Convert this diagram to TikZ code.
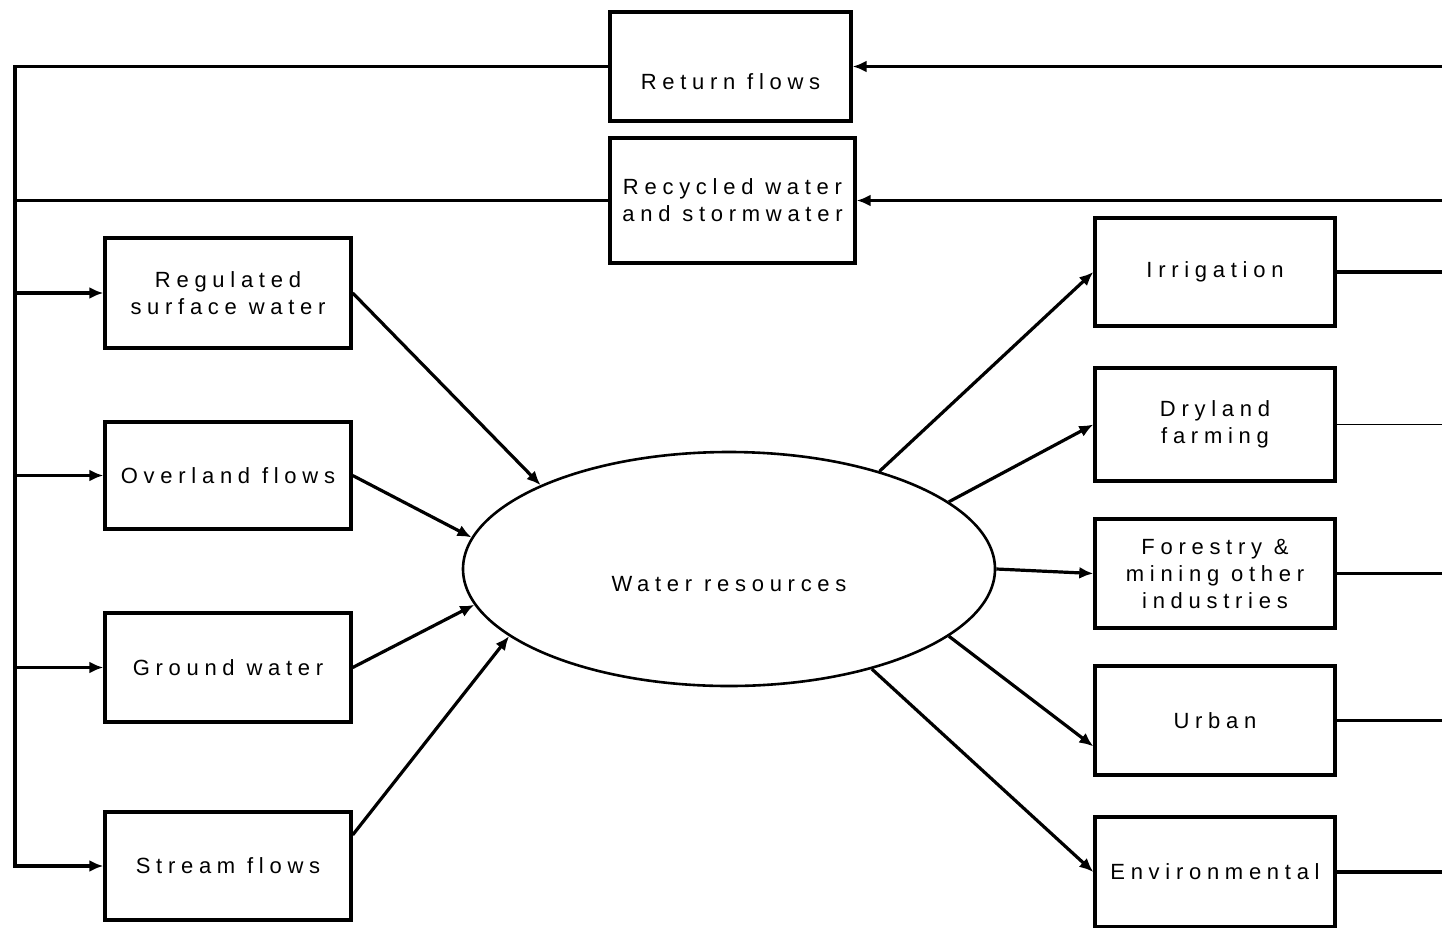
\documentclass[tikz,border=0pt]{standalone}
\usepackage{fontspec}
\setmainfont{Liberation Sans}[LetterSpace=26]
\usetikzlibrary{arrows.meta,shapes.geometric}

\begin{document}
\begin{tikzpicture}[x=1pt,y=-1pt,line width=3.2pt,
  >={Latex[length=14pt,width=12pt]},
  box/.style={draw,line width=3.4pt,inner sep=0pt,align=center,
    font=\fontsize{22}{27}\selectfont},
  pool/.style={draw,ellipse,line width=2.6pt,inner sep=0pt,align=center,
    font=\fontsize{22}{27}\selectfont}]

\useasboundingbox (0,0) rectangle (1442,927);

\def\bw {246} \def\cw {240} \def\bh {109}
\coordinate (spine) at (15,0);
\coordinate (edge) at (1442,0);

% feedback boxes
\node[box,minimum width=241,minimum height=\bh] (ret) at (730.5,66.5)
  {\strut\\Return flows};
\node[box,minimum width=245,minimum height=125] (rec) at (732.5,200.5)
  {Recycled water\\and stormwater};

% sources
\node[box,minimum width=\bw,minimum height=110] (reg) at (228,293)
  {Regulated\\surface water};
\node[box,minimum width=\bw,minimum height=107] (ovl) at (228,475.5)
  {Overland flows};
\node[box,minimum width=\bw,minimum height=\bh] (gnd) at (228,667.5)
  {Ground water};
\node[box,minimum width=\bw,minimum height=108] (str) at (228,866)
  {Stream flows};

\node[pool,minimum width=532,minimum height=234] (wr) at (729,569)
  {\strut\\Water resources};

% uses
\node[box,minimum width=\cw,minimum height=108] (irr) at (1215,272)
  {Irrigation};
\node[box,minimum width=\cw,minimum height=113] (dry) at (1215,424.5)
  {Dryland\\farming};
\node[box,minimum width=\cw,minimum height=\bh] (for) at (1215,573.5)
  {Forestry \&\\mining other\\industries};
\node[box,minimum width=\cw,minimum height=\bh] (urb) at (1215,720.5)
  {Urban};
\node[box,minimum width=\cw,minimum height=110] (env) at (1215,872)
  {Environmental};

% return loop
\draw[->] (edge |- ret.east) -- (ret.east);
\draw[->] (edge |- rec.east) -- (rec.east);
\draw[->] (ret.west) -| (spine |- str.west) -- (str.west);
\draw (rec.west) -- (spine |- rec.west);
\foreach \n in {reg,ovl,gnd}
  \draw[->] (spine |- \n.west) -- (\n.west);

% into the pool
\draw[->] (reg.east) -- (wr.156);
\draw[->] (ovl.east) -- (wr.173);
\draw[->] (gnd.east) -- (wr.188);
\draw[->] (str.14) -- (wr.197);

% out of the pool
\draw[->] (wr.33) -- (irr.west);
\draw[->] (wr.17) -- (dry.west);
\draw[->] (wr.0) -- (for.west);
\draw[->] (wr.343) -- (urb.192);
\draw[->] (wr.325) -- (env.west);

\foreach \n in {irr,for,urb,env}
  \draw (\n.east) -- (edge |- \n.east);
\draw[line width=1.4pt] (dry.east) -- (edge |- dry.east);
\end{tikzpicture}
\end{document}
